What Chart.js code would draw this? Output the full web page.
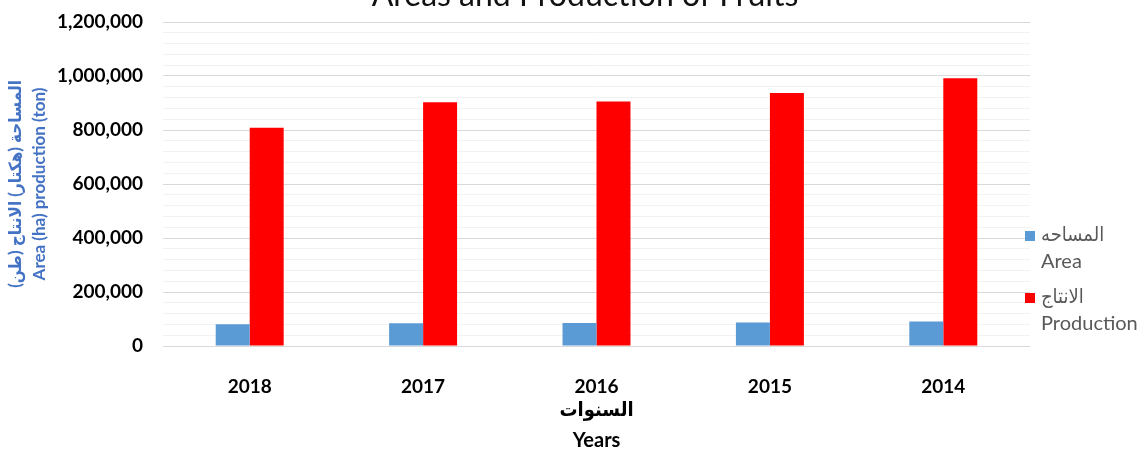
<!DOCTYPE html>
<html>
<head>
<meta charset="utf-8">
<script src="https://cdn.jsdelivr.net/npm/chart.js@4"></script>
<style>
  html, body { margin: 0; padding: 0; background: #fff; }
  #wrap { width: 1143px; height: 451px; position: relative; }
</style>
</head>
<body>
<div id="wrap"><canvas id="fruitChart"></canvas></div>
<script>
// data
const years = ['2018', '2017', '2016', '2015', '2014'];
const areaHa = [81000, 84500, 85000, 87000, 90500];
const productionTon = [808000, 903000, 906000, 937000, 992000];
const yTickLabels = [0, 200000, 400000, 600000, 800000, 1000000, 1200000];
const legendLines = [['المساحه', 'Area'], ['الانتاج', 'Production']];

const FONT = "Lato, 'DejaVu Sans Condensed', 'DejaVu Sans', sans-serif";

// title sits half off the top edge, so draw it by hand
const titlePlugin = {
  id: 'cutTitle',
  afterDraw(chart) {
    const ctx = chart.ctx;
    ctx.save();
    ctx.font = '32px ' + FONT;
    ctx.fillStyle = '#111';
    ctx.textAlign = 'center';
    ctx.textBaseline = 'alphabetic';
    ctx.fillText('Areas and Production of Fruits', 585, 6);
    ctx.restore();
  }
};

// legend on the right, two lines per entry
const sideLegend = {
  id: 'sideLegend',
  afterDraw(chart) {
    const ctx = chart.ctx;
    const rows = [236, 298];
    ctx.save();
    ctx.font = '20px ' + FONT;
    ctx.textBaseline = 'middle';
    chart.data.datasets.forEach((ds, i) => {
      const y = rows[i];
      ctx.fillStyle = ds.backgroundColor;
      ctx.fillRect(1025, y - 5, 10, 10);
      ctx.fillStyle = '#595959';
      ctx.textAlign = 'left';
      ctx.fillText(legendLines[i][0], 1041, y - 1);
      ctx.fillText(legendLines[i][1], 1041, y + 26);
    });
    ctx.restore();
  }
};

const ctx = document.getElementById('fruitChart').getContext('2d');
const fruitChart = new Chart(ctx, {
  type: 'bar',
  data: {
    labels: years,
    datasets: [
      {
        label: legendLines[0].join(' '),
        data: areaHa,
        backgroundColor: '#5B9BD5',
        categoryPercentage: 0.392,
        barPercentage: 1.0
      },
      {
        label: legendLines[1].join(' '),
        data: productionTon,
        backgroundColor: '#FF0000',
        categoryPercentage: 0.392,
        barPercentage: 1.0
      }
    ]
  },
  options: {
    responsive: true,
    maintainAspectRatio: false,
    animation: false,
    layout: { padding: { top: 22, right: 113, left: 0, bottom: 0 } },
    plugins: {
      legend: { display: false },
      tooltip: { enabled: false }
    },
    scales: {
      x: {
        grid: { display: false },
        border: { display: false },
        ticks: {
          color: '#000',
          font: { family: FONT, size: 19, weight: 'bold' },
          padding: 21
        },
        title: {
          display: true,
          text: ['السنوات', 'Years'],
          color: '#000',
          font: { family: FONT, size: 20, weight: 'bold', lineHeight: 1.55 },
          padding: { top: 0, bottom: -5 }
        },
        afterFit(scale) { scale.height = 105; }
      },
      y: {
        min: 0,
        max: 1200000,
        border: { display: false },
        grid: {
          drawTicks: false,
          color: c => (c.tick.value % 200000 === 0 ? '#d9d9d9' : '#f2f2f2'),
          lineWidth: 1
        },
        ticks: {
          stepSize: 40000,
          autoSkip: false,
          padding: 20,
          color: '#000',
          font: { family: FONT, size: 19, weight: 'bold' },
          callback: v => (yTickLabels.includes(v) ? v.toLocaleString('en-US') : '')
        },
        title: {
          display: true,
          text: ['المساحة (هكتار) الانتاج (طن)', 'Area (ha) production (ton)'],
          color: '#4472C4',
          font: { family: FONT, size: 17, weight: 'bold', lineHeight: 1.41 },
          padding: { top: 4, bottom: 0 }
        },
        afterFit(scale) {
          scale.width = 163;
          scale.paddingTop = 0;
          scale.paddingBottom = 0;
        }
      }
    }
  },
  plugins: [titlePlugin, sideLegend]
});
</script>
</body>
</html>
